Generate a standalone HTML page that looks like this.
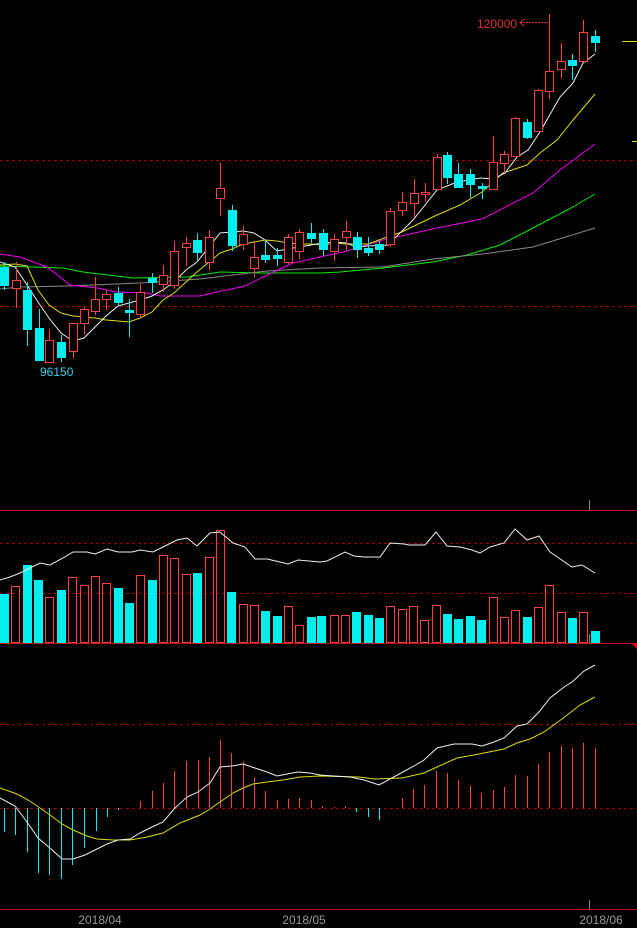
<!DOCTYPE html>
<html><head><meta charset="utf-8"><style>
html,body{margin:0;padding:0;background:#000;}
svg{display:block}
text{font-family:"Liberation Sans",sans-serif;}
</style></head><body>
<svg id="s" width="637" height="928" viewBox="0 0 637 928" xmlns="http://www.w3.org/2000/svg">
<rect width="637" height="928" fill="#000"/>
<g stroke="#b00000" stroke-dasharray="3,3" stroke-width="1">
<line x1="0" y1="160.5" x2="637" y2="160.5"/>
<line x1="0" y1="306.5" x2="637" y2="306.5"/>
<line x1="0" y1="543.5" x2="637" y2="543.5"/>
<line x1="0" y1="593.5" x2="637" y2="593.5"/>
<line x1="0" y1="724.5" x2="637" y2="724.5"/>
<line x1="0" y1="808.5" x2="637" y2="808.5"/>
</g>
<g stroke="#c01010" stroke-width="1">
<line x1="0" y1="510.5" x2="637" y2="510.5"/>
<line x1="0" y1="643.5" x2="637" y2="643.5"/>
<line x1="0" y1="909.5" x2="637" y2="909.5"/>
</g>
<polygon points="631,643 637,643 637,649" fill="#d01010"/>
<line x1="589.5" y1="500" x2="589.5" y2="510" stroke="#888"/>
<line x1="589.5" y1="634" x2="589.5" y2="643" stroke="#888"/>
<line x1="589.5" y1="900" x2="589.5" y2="909" stroke="#888"/>
<line x1="622" y1="41.5" x2="637" y2="41.5" stroke="#dddd00"/>
<line x1="632" y1="141.5" x2="637" y2="141.5" stroke="#dddd00"/>
<g id="g"></g>
<text x="477" y="28" fill="#e03030" font-size="12">120000</text>
<line x1="520" y1="22.5" x2="548" y2="22.5" stroke="#e03030" stroke-dasharray="2,1"/>
<polyline points="524,19 520,22.5 524,26" fill="none" stroke="#e03030"/>
<text x="40" y="376" fill="#30d0f0" font-size="12">96150</text>
<text x="100" y="924" fill="#999" font-size="12" text-anchor="middle">2018/04</text>
<text x="304" y="924" fill="#999" font-size="12" text-anchor="middle">2018/05</text>
<text x="601" y="924" fill="#999" font-size="12" text-anchor="middle">2018/06</text>
</svg>
<script>
var g=document.getElementById('g'),NS='http://www.w3.org/2000/svg',h='';
var R='#ff4040',C='#00eeee';
function pl(p,c){h+='<polyline fill="none" stroke="'+c+'" stroke-width="1" points="'+p+'"/>';}
// MAs
pl("0,266 63,268 83,272 133,278 187,277 220,272 260,273 320,273 340,272 383,268 433,262 467,255 500,245 533,228 573,207 595,194","#00ee00");
pl("0,289 20,287 67,286 140,283 200,279 267,271 320,268 383,267 433,259 483,254 533,247 595,228","#888");
pl("0,254 20,257 47,267 70,285 97,288 117,292 147,293 160,296 200,296 217,292 245,286 267,275 293,263 320,257 343,252 383,240 437,228 482,219 533,193 560,170 595,144","#ee00ee");
pl("0,265 15,264 27,266 38,290 49,305 61,313 73,316 84,317 95,318 106,320 118,321 129,322 140,318 152,312 163,300 174,293 186,282 197,272 209,262 220,253 232,249 243,244 254,242 265,240 277,241 288,243 299,244 311,244 323,245 334,243 346,244 357,244 368,244 379,240 390,236 402,232 414,226 437,215 460,205 482,192 503,173 527,165 540,153 557,140 573,120 595,94","#dddd00");
pl("0,262 15,267 27,285 38,302 49,318 61,333 73,341 84,338 95,327 106,316 118,306 129,303 140,300 152,296 163,290 174,282 186,270 197,262 209,247 220,233 232,232 243,231 254,233 265,240 277,251 288,249 299,247 311,245 323,243 334,242 346,243 357,247 368,246 388,245 413,220 437,190 457,182 480,178 493,179 505,173 517,157 528,150 540,132 560,97 573,83 583,63 595,54","#eee");
// candles [x,bt,bb,wt,wb,up]
var cd=[[4,267,285,262,290,0],[16,280,288,262,308,1],[27,290,329,282,346,0],[39,328,360,309,361,0],[49,340,362,329,363,1],[61,342,357,335,362,0],[73,323,351,323,358,1],[84,309,323,307,334,1],[95,299,311,277,315,1],[106,294,299,290,310,1],[118,293,302,287,306,0],[129,310,312,299,337,0],[140,292,314,284,318,1],[152,278,282,273,293,0],[163,275,284,265,292,1],[174,251,285,241,289,1],[186,243,247,237,266,1],[197,240,252,233,260,0],[209,237,262,230,270,1],[220,188,198,163,216,1],[232,210,245,205,251,0],[243,234,244,226,250,1],[254,257,268,241,277,1],[265,255,259,240,263,0],[277,255,258,248,266,0],[288,237,262,234,264,1],[299,232,251,229,259,1],[311,233,238,223,243,0],[323,233,249,229,256,0],[334,239,251,234,261,1],[346,231,237,221,250,1],[357,237,249,232,258,0],[368,248,252,237,256,0],[379,244,249,241,254,0],[390,211,244,208,247,1],[402,202,210,192,216,1],[414,193,203,179,217,1],[425,192,194,183,202,1],[437,157,189,154,190,1],[447,155,177,152,184,0],[458,174,187,163,188,0],[470,174,184,169,198,0],[482,186,188,183,199,0],[493,162,189,136,190,1],[504,154,163,151,173,1],[515,118,156,117,156,1],[527,122,137,119,139,0],[538,90,131,89,131,1],[549,71,91,14,99,1],[561,61,69,43,78,1],[572,60,65,54,80,0],[583,32,61,20,62,1],[595,36,42,30,52,0]];
cd.forEach(function(c){var x=c[0],col=c[5]?R:C;
h+='<line x1="'+(x+.5)+'" y1="'+c[3]+'" x2="'+(x+.5)+'" y2="'+c[4]+'" stroke="'+col+'"/>';
var bh=Math.max(c[2]-c[1],1);
if(c[5])h+='<rect x="'+(x-3.5)+'" y="'+(c[1]+.5)+'" width="8" height="'+bh+'" fill="#000" stroke="'+R+'"/>';
else h+='<rect x="'+(x-4)+'" y="'+c[1]+'" width="9" height="'+(bh+1)+'" fill="'+C+'"/>';});
// volume [x0,top,up]
var v=[[0,594,0],[11,586,1],[23,565,0],[34,580,0],[45,597,1],[57,590,0],[68,577,1],[80,585,1],[91,576,1],[102,583,1],[114,588,0],[125,603,0],[136,575,1],[148,580,0],[159,555,1],[170,558,1],[182,574,1],[193,573,0],[205,557,1],[216,530,1],[227,592,0],[239,604,1],[250,605,1],[261,611,0],[273,616,0],[284,606,1],[295,625,1],[307,617,0],[317,616,0],[330,615,1],[341,615,1],[352,612,0],[364,615,0],[375,618,0],[386,606,1],[398,609,1],[409,606,1],[420,620,1],[432,605,1],[443,614,0],[454,619,0],[466,616,0],[477,620,0],[489,597,1],[500,617,1],[511,610,1],[523,617,0],[534,607,1],[545,585,1],[557,612,1],[568,618,0],[579,612,1],[591,631,0]];
v.forEach(function(b){if(b[2])h+='<rect x="'+(b[0]+.5)+'" y="'+(b[1]+.5)+'" width="8" height="'+(643-b[1]-1)+'" fill="none" stroke="'+R+'"/>';
else h+='<rect x="'+b[0]+'" y="'+b[1]+'" width="9" height="'+(643-b[1])+'" fill="'+C+'"/>';});
pl("0,580 10,577 20,573 30,568 40,563 50,565 63,558 73,552 87,552 95,554 107,549 118,552 132,552 140,550 153,552 163,547 177,540 187,538 197,546 210,533 220,532 233,543 245,547 255,559 267,559 280,562 288,564 298,560 320,562 327,561 345,552 354,556 364,557 380,557 390,543 404,544 409,545 425,545 436,532 447,546 460,547 472,550 480,553 490,547 504,543 515,529 527,540 539,536 550,552 572,567 582,565 595,573","#eee");
// MACD bars
var m=[[4,832],[15,835],[27,852],[38,873],[49,875],[61,879],[72,865],[84,848],[96,831],[107,817],[118,810],[140,801],[152,791],[163,783],[174,771],[186,761],[198,760],[209,757],[220,740],[231,753],[243,762],[254,778],[265,791],[277,800],[288,799],[299,798],[311,800],[322,806],[334,807],[345,806],[356,812],[368,817],[379,820],[402,798],[413,789],[424,785],[436,771],[447,773],[458,780],[470,786],[481,793],[493,790],[504,787],[515,775],[527,776],[538,764],[549,752],[561,746],[572,748],[583,743],[595,748]];
m.forEach(function(b){h+='<line x1="'+(b[0]+.5)+'" y1="808" x2="'+(b[0]+.5)+'" y2="'+b[1]+'" stroke="'+(b[1]>808?C:R)+'"/>';});
pl("0,788 17,794 28,800 40,808 50,815 62,824 73,830 87,836 97,839 113,840 130,840 147,837 163,833 180,823 200,815 210,809 220,802 233,793 243,788 253,784 267,782 283,780 300,777 320,776 359,777 375,779 402,778 424,773 437,767 457,758 474,755 504,749 517,743 530,739 544,732 562,719 580,705 595,697","#dddd00");
pl("0,798 15,806 27,822 38,838 50,848 62,859 73,859 85,855 97,849 107,844 118,840 130,839 140,833 152,827 163,822 175,808 187,797 198,792 210,783 220,767 232,766 243,764 255,768 267,772 277,776 287,774 298,772 310,773 320,775 334,776 350,777 364,780 379,785 390,779 414,766 424,760 437,748 454,744 472,744 482,746 494,742 504,738 517,726 527,724 539,712 550,698 564,687 572,682 584,671 595,665","#eee");
g.innerHTML=h;
</script>
</body></html>
